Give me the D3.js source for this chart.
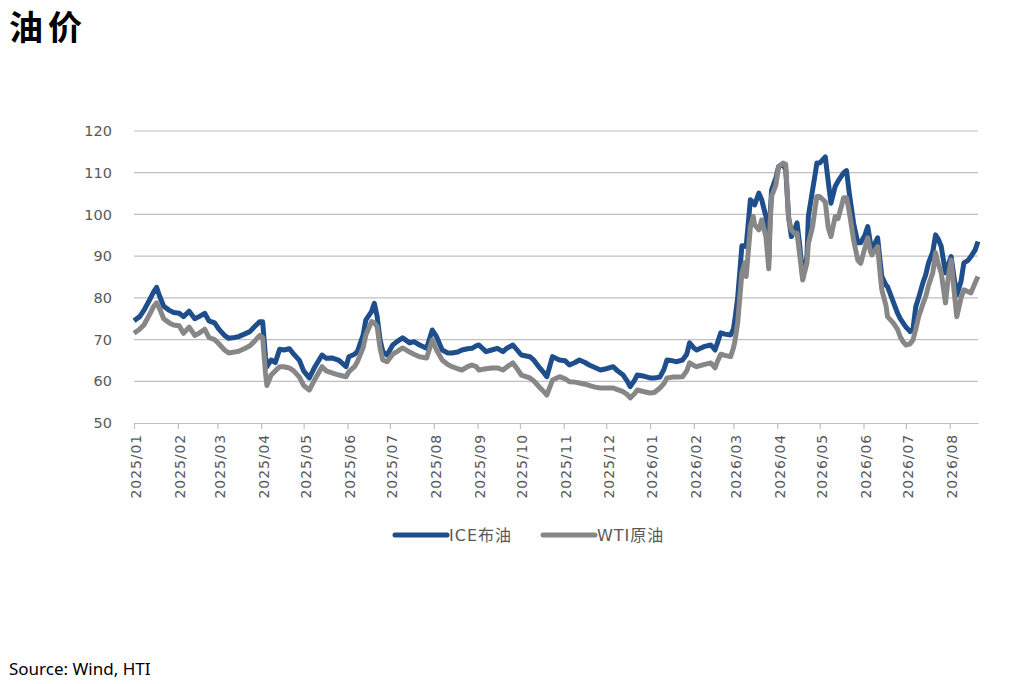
<!DOCTYPE html>
<html>
<head>
<meta charset="utf-8">
<script src="https://cdn.jsdelivr.net/npm/d3@7"></script>
<style>
  body { margin: 0; background: #fff; }
  svg { display: block; }
</style>
</head>
<body>
<svg id="chart" width="1020" height="684"></svg>
<script>
// Oil prices
const dates = [
  '2025-01-01','2025-01-05','2025-01-08','2025-01-12','2025-01-15','2025-01-17','2025-01-19','2025-01-22','2025-01-26','2025-01-29',
  '2025-02-02','2025-02-05','2025-02-09','2025-02-13','2025-02-16','2025-02-20','2025-02-23','2025-02-27',
  '2025-03-02','2025-03-06','2025-03-09','2025-03-13','2025-03-16','2025-03-20','2025-03-24','2025-03-27','2025-03-31',
  '2025-04-02','2025-04-04','2025-04-05','2025-04-08','2025-04-11','2025-04-14','2025-04-17','2025-04-21','2025-04-24','2025-04-28',
  '2025-05-01','2025-05-05','2025-05-09','2025-05-14','2025-05-17','2025-05-21','2025-05-26','2025-05-31',
  '2025-06-02','2025-06-06','2025-06-08','2025-06-12','2025-06-14','2025-06-18','2025-06-20','2025-06-22','2025-06-24','2025-06-26','2025-06-29',
  '2025-07-03','2025-07-06','2025-07-10','2025-07-15','2025-07-18','2025-07-22','2025-07-27','2025-07-31',
  '2025-08-03','2025-08-07','2025-08-11','2025-08-14','2025-08-18','2025-08-21','2025-08-25','2025-08-28','2025-08-31',
  '2025-09-02','2025-09-07','2025-09-11','2025-09-15','2025-09-19','2025-09-22','2025-09-26','2025-09-29',
  '2025-10-02','2025-10-08','2025-10-11','2025-10-15','2025-10-18','2025-10-20','2025-10-24','2025-10-29',
  '2025-11-02','2025-11-05','2025-11-09','2025-11-12','2025-11-16','2025-11-19','2025-11-23','2025-11-27',
  '2025-12-01','2025-12-06','2025-12-09','2025-12-13','2025-12-16','2025-12-18','2025-12-21','2025-12-23','2025-12-28',
  '2026-01-01','2026-01-04','2026-01-08','2026-01-11','2026-01-13','2026-01-17','2026-01-20','2026-01-24','2026-01-27','2026-01-29',
  '2026-02-01','2026-02-03','2026-02-08','2026-02-13','2026-02-16','2026-02-18','2026-02-20','2026-02-23','2026-02-27',
  '2026-03-01','2026-03-02','2026-03-04','2026-03-07','2026-03-09','2026-03-10','2026-03-13','2026-03-15','2026-03-16','2026-03-19',
  '2026-03-21','2026-03-24','2026-03-26','2026-03-27','2026-03-28','2026-03-31',
  '2026-04-02','2026-04-05','2026-04-07','2026-04-09','2026-04-11','2026-04-13','2026-04-15','2026-04-17','2026-04-19','2026-04-22',
  '2026-04-23','2026-04-26','2026-04-28','2026-04-29',
  '2026-05-01','2026-05-05','2026-05-07','2026-05-09','2026-05-12','2026-05-14','2026-05-18','2026-05-20','2026-05-22','2026-05-25',
  '2026-05-28','2026-05-30',
  '2026-06-02','2026-06-04','2026-06-06','2026-06-07','2026-06-11','2026-06-13','2026-06-14','2026-06-17','2026-06-18','2026-06-22',
  '2026-06-25','2026-06-27','2026-06-29',
  '2026-07-01','2026-07-04','2026-07-06','2026-07-08','2026-07-10','2026-07-13','2026-07-15','2026-07-17','2026-07-20','2026-07-22',
  '2026-07-24','2026-07-26','2026-07-29','2026-07-31',
  '2026-08-02','2026-08-04','2026-08-06','2026-08-09','2026-08-11','2026-08-14','2026-08-16','2026-08-19','2026-08-21'
];

const brent = [
  74.5,75.5,77,79.5,81.5,82.5,80.5,78,77,76.5,
  76.3,75.5,76.8,75,75.5,76.3,74.5,74,
  72.5,71,70.3,70.5,70.7,71.3,71.9,73,74.3,
  74.3,66,63.5,65.1,64.5,67.7,67.5,67.8,66.5,65,
  62.5,60.8,63.5,66.3,65.5,65.6,65,63.5,
  65.9,66.5,67.1,71,74.7,76.7,78.7,75.5,70,67.1,66.3,
  68.7,69.5,70.4,69.2,69.5,68.7,67.9,72.3,
  70.7,67.5,66.8,66.8,67,67.5,67.8,67.9,68.5,
  68.7,67.1,67.5,67.9,67.1,68,68.7,67.5,
  66.3,65.9,65,63.2,62,61.1,65.9,65.1,
  64.9,63.9,64.5,65.1,64.5,63.9,63.3,62.7,
  63,63.5,62.5,61.5,60,58.7,60.2,61.5,61.2,
  60.8,60.8,61,63,65.1,64.9,64.7,65.1,66.5,69.2,
  68,67.5,68.3,68.7,67.5,69.5,71.6,71.3,71.1,
  72.5,74.7,80,92.5,92.5,92.3,103.5,102.8,102.3,105.1,
  103.5,99.5,89,100,105.9,108.7,
  111.5,112,110.7,99.5,94.7,96,98,92.3,84.8,90,
  99.5,105.9,110,112.3,
  112.3,113.8,108,102.7,106.7,108,110,110.5,105,97.9,
  93.2,93.2,
  95,97.1,93,91.5,94.4,88,85.1,83,82.7,79.1,
  76.4,75,74,
  73,71.9,72.5,77.9,80,83.6,85.5,88.4,91,95.1,
  94,92.3,86,88,
  89.9,85,80.7,84,88.4,89,89.9,91.5,93.5
];

const wti = [
  71.5,72.5,73.5,76,78,78.8,77.5,75,74,73.5,
  73.3,71.5,73,71,71.5,72.5,70.5,70,
  69,67.5,66.8,67,67.2,67.8,68.5,69.5,71,
  70.5,62,59,61.5,62.5,63.5,63.5,63.2,62.5,61,
  59,57.9,60.5,63.5,62.5,62,61.5,61.1,
  62.3,63.5,64.7,68,71.1,74.3,74,73.1,68,65.1,64.7,
  66.5,67.1,68,67,66.5,65.9,65.6,69.9,
  67.5,65.1,64,63.5,63,62.7,63.5,63.9,63.5,
  62.7,63,63.2,63.2,62.7,63.5,64.4,63,
  61.5,60.8,60,58.5,57.5,56.7,60.3,61.1,
  60.6,59.9,59.8,59.6,59.3,59,58.6,58.4,
  58.4,58.4,58,57.5,56.8,56,57,57.9,57.5,
  57.2,57.3,58.4,59.5,60.8,61,61,61.1,62.5,64.4,
  63.8,63.5,64,64.4,63.2,65,66.5,66.2,65.9,
  68,69.5,74,86,88.4,85.1,97,99.5,97.5,96.3,
  98.7,94.7,87,98,104.3,107,
  111.5,112.3,112,99,96.3,95.5,95.5,90,84.3,88.4,
  93,97.1,102,104.3,
  104.3,103,97,94.7,99.5,99,104,104,100.5,93.9,
  89,88.3,
  92,94.4,91,90.3,92.3,85,81.9,78,75.5,74,
  72.5,70.7,69.5,
  68.7,69,69.9,72.5,75.5,78.5,80.3,83,86,90.8,
  88,86,78.8,85,
  89.1,82,75.5,80,81.9,81.5,81.2,83.6,85.1
];

const yTicks = [50, 60, 70, 80, 90, 100, 110, 120];
const seriesNames = ['ICE布油', 'WTI原油'];
const seriesColors = ['#1f4e8c', '#878787'];

const parse = d3.timeParse('%Y-%m-%d');
const data = dates.map((d, i) => ({ date: parse(d), brent: brent[i], wti: wti[i] }));

const svg = d3.select('#chart');
const margin = { left: 134, right: 42, top: 131, bottom: 261 };
const W = 1020, H = 684;

const x = d3.scaleTime()
  .domain([parse('2025-01-01'), parse('2026-08-21')])
  .range([margin.left, W - margin.right]);
const y = d3.scaleLinear()
  .domain([50, 120])
  .range([H - margin.bottom, margin.top]);

// Title
svg.append('text')
  .attr('x', 9).attr('y', 40)
  .attr('font-family', '"Noto Sans CJK SC", sans-serif')
  .attr('font-size', 34).attr('font-weight', 700)
  .attr('letter-spacing', 5)
  .attr('fill', '#000')
  .text('油价');

// Gridlines
svg.append('g')
  .selectAll('line')
  .data(yTicks.filter(t => t > 50))
  .join('line')
  .attr('x1', margin.left).attr('x2', W - margin.right)
  .attr('y1', d => y(d)).attr('y2', d => y(d))
  .attr('stroke', '#bfbfbf').attr('stroke-width', 1.2);

// Y axis labels
const yAxis = d3.axisLeft(y).tickValues(yTicks).tickSize(0).tickPadding(22);
svg.append('g')
  .attr('transform', `translate(${margin.left},0)`)
  .call(yAxis)
  .call(g => g.select('.domain').remove())
  .call(g => g.selectAll('text')
    .attr('font-family', '"DejaVu Sans", sans-serif')
    .attr('font-size', 14.5)
    .attr('fill', '#595959'));

// X axis with month ticks
const months = d3.timeMonth.range(parse('2025-01-01'), parse('2026-08-21'));
const xAxis = d3.axisBottom(x)
  .tickValues(months)
  .tickFormat(d3.timeFormat('%Y/%m'))
  .tickSize(6)
  .tickSizeOuter(0);
svg.append('g')
  .attr('transform', `translate(0,${y(50)})`)
  .call(xAxis)
  .call(g => g.select('.domain').attr('stroke', '#bfbfbf').attr('stroke-width', 1.2))
  .call(g => g.selectAll('.tick line').attr('stroke', '#bfbfbf').attr('stroke-width', 1.2))
  .call(g => g.selectAll('.tick text')
    .attr('font-family', '"DejaVu Sans", sans-serif')
    .attr('font-size', 14)
    .attr('letter-spacing', 0.9)
    .attr('fill', '#595959')
    .attr('text-anchor', 'end')
    .attr('transform', 'rotate(-90)')
    .attr('x', -11)
    .attr('y', 2)
    .attr('dy', '0.35em'));

// Lines: ICE first, WTI drawn over it
const lineBrent = d3.line().x(d => x(d.date)).y(d => y(d.brent));
const lineWti = d3.line().x(d => x(d.date)).y(d => y(d.wti));

svg.append('path')
  .datum(data)
  .attr('d', lineBrent)
  .attr('fill', 'none')
  .attr('stroke', seriesColors[0])
  .attr('stroke-width', 5)
  .attr('stroke-linejoin', 'round');

svg.append('path')
  .datum(data)
  .attr('d', lineWti)
  .attr('fill', 'none')
  .attr('stroke', seriesColors[1])
  .attr('stroke-width', 5)
  .attr('stroke-linejoin', 'round');

// Legend
const legendX = [395, 543];
const legend = svg.append('g');
seriesNames.forEach((name, i) => {
  legend.append('line')
    .attr('x1', legendX[i]).attr('x2', legendX[i] + 52)
    .attr('y1', 535).attr('y2', 535)
    .attr('stroke', seriesColors[i])
    .attr('stroke-width', 5)
    .attr('stroke-linecap', 'round');
  legend.append('text')
    .attr('x', legendX[i] + 54).attr('y', 541)
    .attr('font-family', '"DejaVu Sans", "Noto Sans CJK SC", sans-serif')
    .attr('font-size', 16)
    .attr('letter-spacing', 1)
    .attr('fill', '#595959')
    .text(name);
});

// Source
svg.append('text')
  .attr('x', 9).attr('y', 675)
  .attr('font-family', '"Noto Sans", sans-serif')
  .attr('font-size', 17)
  .attr('fill', '#000')
  .text('Source: Wind, HTI');
</script>
</body>
</html>
